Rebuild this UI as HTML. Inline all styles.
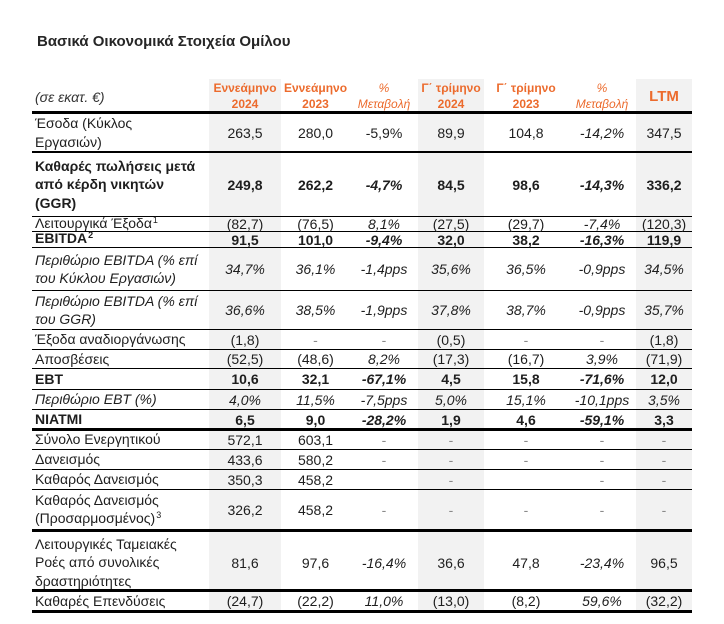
<!DOCTYPE html>
<html>
<head>
<meta charset="utf-8">
<style>
html,body{margin:0;padding:0;}
body{width:724px;height:624px;background:#fff;position:relative;overflow:hidden;font-family:"Liberation Sans","DejaVu Sans",sans-serif;color:#1e1e1e;}
.title{position:absolute;left:37px;top:32px;font-size:15px;font-weight:bold;color:#262626;white-space:nowrap;line-height:20px;}
.unit{position:absolute;left:35px;top:88px;font-size:14px;font-style:italic;color:#333;line-height:18px;white-space:nowrap;}
.shade{position:absolute;top:79px;height:532px;background:#f2f2f2;}
.ln{position:absolute;left:32px;width:660px;background:#000;}
.r{position:absolute;left:32px;width:660px;}
.c{position:absolute;top:0;height:100%;display:flex;align-items:center;justify-content:center;font-size:14px;white-space:nowrap;box-sizing:border-box;padding-top:1px;}
.c0{left:0;width:177px;justify-content:flex-start;padding-left:3px;line-height:18.5px;}
.c1{left:177px;width:72px}
.c2{left:249px;width:69px}
.c3{left:318px;width:68px}
.c4{left:386px;width:66px}
.c5{left:452px;width:84px}
.c6{left:536px;width:68px}
.c7{left:604px;width:56px}
.b{font-weight:bold;}
.i{font-style:italic;}
.d{color:#8a8a8a;}
.sp{font-size:9px;position:relative;top:-5px;margin-left:1px;}
.h{position:absolute;top:79px;height:33px;display:flex;flex-direction:column;align-items:center;justify-content:center;font-size:12px;line-height:16px;color:#EC6B2D;white-space:nowrap;}
.hb{font-weight:bold;}
.hi{font-style:italic;}
</style>
</head>
<body>
<div class="title">Βασικά Οικονομικά Στοιχεία Ομίλου</div>
<div class="unit">(σε εκατ. €)</div>

<div class="shade" style="left:209px;width:72px"></div>
<div class="shade" style="left:418px;width:66px"></div>
<div class="shade" style="left:636px;width:56px"></div>

<!-- header -->
<div class="h hb" style="left:209px;width:72px"><div>Εννεάμηνο</div><div>2024</div></div>
<div class="h hb" style="left:281px;width:69px"><div>Εννεάμηνο</div><div>2023</div></div>
<div class="h hi" style="left:350px;width:68px"><div>%</div><div>Μεταβολή</div></div>
<div class="h hb" style="left:418px;width:66px"><div>Γ΄ τρίμηνο</div><div>2024</div></div>
<div class="h hb" style="left:484px;width:84px"><div>Γ΄ τρίμηνο</div><div>2023</div></div>
<div class="h hi" style="left:568px;width:68px"><div>%</div><div>Μεταβολή</div></div>
<div class="h hb" style="left:636px;width:56px;font-size:15px;padding-top:2px;box-sizing:border-box">LTM</div>

<!-- lines -->
<div class="ln" style="top:110.5px;height:3px"></div>
<div class="ln" style="top:151px;height:1.5px"></div>
<div class="ln" style="top:215.5px;height:1px"></div>
<div class="ln" style="top:230.5px;height:1.5px"></div>
<div class="ln" style="top:246.5px;height:1.5px"></div>
<div class="ln" style="top:289.5px;height:1px"></div>
<div class="ln" style="top:328.5px;height:1px"></div>
<div class="ln" style="top:348.5px;height:1px"></div>
<div class="ln" style="top:367.5px;height:1px"></div>
<div class="ln" style="top:388.5px;height:1px"></div>
<div class="ln" style="top:408.5px;height:1.5px"></div>
<div class="ln" style="top:427.5px;height:3px"></div>
<div class="ln" style="top:448.5px;height:1px"></div>
<div class="ln" style="top:468.5px;height:1px"></div>
<div class="ln" style="top:488.5px;height:1px"></div>
<div class="ln" style="top:528.5px;height:3px"></div>
<div class="ln" style="top:588.5px;height:3px"></div>
<div class="ln" style="top:609.5px;height:3px"></div>

<!-- R1 -->
<div class="r" style="top:112px;height:40px">
<div class="c c0"><div>Έσοδα (Κύκλος<br>Εργασιών)</div></div>
<div class="c c1">263,5</div><div class="c c2">280,0</div><div class="c c3">-5,9%</div>
<div class="c c4">89,9</div><div class="c c5">104,8</div><div class="c c6 i">-14,2%</div><div class="c c7">347,5</div>
</div>
<!-- R2 -->
<div class="r b" style="top:152px;height:64px">
<div class="c c0"><div>Καθαρές πωλήσεις μετά<br>από κέρδη νικητών<br>(GGR)</div></div>
<div class="c c1">249,8</div><div class="c c2">262,2</div><div class="c c3 i">-4,7%</div>
<div class="c c4">84,5</div><div class="c c5">98,6</div><div class="c c6 i">-14,3%</div><div class="c c7">336,2</div>
</div>
<!-- R3 -->
<div class="r" style="top:216px;height:15px">
<div class="c c0"><div>Λειτουργικά Έξοδα<span class="sp">1</span></div></div>
<div class="c c1">(82,7)</div><div class="c c2">(76,5)</div><div class="c c3 i">8,1%</div>
<div class="c c4">(27,5)</div><div class="c c5">(29,7)</div><div class="c c6 i">-7,4%</div><div class="c c7">(120,3)</div>
</div>
<!-- R4 -->
<div class="r b" style="top:231px;height:16px">
<div class="c c0"><div>EBITDA<span class="sp">2</span></div></div>
<div class="c c1">91,5</div><div class="c c2">101,0</div><div class="c c3 i">-9,4%</div>
<div class="c c4">32,0</div><div class="c c5">38,2</div><div class="c c6 i">-16,3%</div><div class="c c7">119,9</div>
</div>
<!-- R5 -->
<div class="r i" style="top:247px;height:43px">
<div class="c c0"><div>Περιθώριο EBITDA (% επί<br>του Κύκλου Εργασιών)</div></div>
<div class="c c1">34,7%</div><div class="c c2">36,1%</div><div class="c c3">-1,4pps</div>
<div class="c c4">35,6%</div><div class="c c5">36,5%</div><div class="c c6">-0,9pps</div><div class="c c7">34,5%</div>
</div>
<!-- R6 -->
<div class="r i" style="top:290px;height:39px">
<div class="c c0"><div>Περιθώριο EBITDA (% επί<br>του GGR)</div></div>
<div class="c c1">36,6%</div><div class="c c2">38,5%</div><div class="c c3">-1,9pps</div>
<div class="c c4">37,8%</div><div class="c c5">38,7%</div><div class="c c6">-0,9pps</div><div class="c c7">35,7%</div>
</div>
<!-- R7 -->
<div class="r" style="top:329px;height:20px">
<div class="c c0"><div>Έξοδα αναδιοργάνωσης</div></div>
<div class="c c1">(1,8)</div><div class="c c2 d">-</div><div class="c c3 d">-</div>
<div class="c c4">(0,5)</div><div class="c c5 d">-</div><div class="c c6 d">-</div><div class="c c7">(1,8)</div>
</div>
<!-- R8 -->
<div class="r" style="top:349px;height:19px">
<div class="c c0"><div>Αποσβέσεις</div></div>
<div class="c c1">(52,5)</div><div class="c c2">(48,6)</div><div class="c c3 i">8,2%</div>
<div class="c c4">(17,3)</div><div class="c c5">(16,7)</div><div class="c c6 i">3,9%</div><div class="c c7">(71,9)</div>
</div>
<!-- R9 -->
<div class="r b" style="top:368px;height:21px">
<div class="c c0"><div>EBT</div></div>
<div class="c c1">10,6</div><div class="c c2">32,1</div><div class="c c3 i">-67,1%</div>
<div class="c c4">4,5</div><div class="c c5">15,8</div><div class="c c6 i">-71,6%</div><div class="c c7">12,0</div>
</div>
<!-- R10 -->
<div class="r i" style="top:389px;height:20px">
<div class="c c0"><div>Περιθώριο EBT (%)</div></div>
<div class="c c1">4,0%</div><div class="c c2">11,5%</div><div class="c c3">-7,5pps</div>
<div class="c c4">5,0%</div><div class="c c5">15,1%</div><div class="c c6">-10,1pps</div><div class="c c7">3,5%</div>
</div>
<!-- R11 -->
<div class="r b" style="top:409px;height:20px">
<div class="c c0"><div>NIATMI</div></div>
<div class="c c1">6,5</div><div class="c c2">9,0</div><div class="c c3 i">-28,2%</div>
<div class="c c4">1,9</div><div class="c c5">4,6</div><div class="c c6 i">-59,1%</div><div class="c c7">3,3</div>
</div>
<!-- R12 -->
<div class="r" style="top:429px;height:20px">
<div class="c c0"><div>Σύνολο Ενεργητικού</div></div>
<div class="c c1">572,1</div><div class="c c2">603,1</div><div class="c c3 d">-</div>
<div class="c c4 d">-</div><div class="c c5 d">-</div><div class="c c6 d">-</div><div class="c c7 d">-</div>
</div>
<!-- R13 -->
<div class="r" style="top:449px;height:20px">
<div class="c c0"><div>Δανεισμός</div></div>
<div class="c c1">433,6</div><div class="c c2">580,2</div><div class="c c3 d">-</div>
<div class="c c4 d">-</div><div class="c c5 d">-</div><div class="c c6 d">-</div><div class="c c7 d">-</div>
</div>
<!-- R14 -->
<div class="r" style="top:469px;height:20px">
<div class="c c0"><div>Καθαρός Δανεισμός</div></div>
<div class="c c1">350,3</div><div class="c c2">458,2</div>
<div class="c c4 d">-</div><div class="c c6 d">-</div><div class="c c7 d">-</div>
</div>
<!-- R15 -->
<div class="r" style="top:489px;height:41px">
<div class="c c0"><div>Καθαρός Δανεισμός<br>(Προσαρμοσμένος)<span class="sp">3</span></div></div>
<div class="c c1">326,2</div><div class="c c2">458,2</div><div class="c c3 d">-</div>
<div class="c c4 d">-</div><div class="c c5 d">-</div><div class="c c6 d">-</div><div class="c c7 d">-</div>
</div>
<!-- R16 -->
<div class="r" style="top:530px;height:60px">
<div class="c c0" style="padding-top:5px"><div>Λειτουργικές Ταμειακές<br>Ροές από συνολικές<br>δραστηριότητες</div></div>
<div class="c c1" style="padding-top:5px">81,6</div><div class="c c2" style="padding-top:5px">97,6</div><div class="c c3 i" style="padding-top:5px">-16,4%</div>
<div class="c c4" style="padding-top:5px">36,6</div><div class="c c5" style="padding-top:5px">47,8</div><div class="c c6 i" style="padding-top:5px">-23,4%</div><div class="c c7" style="padding-top:5px">96,5</div>
</div>
<!-- R17 -->
<div class="r" style="top:590px;height:21px">
<div class="c c0"><div>Καθαρές Επενδύσεις</div></div>
<div class="c c1">(24,7)</div><div class="c c2">(22,2)</div><div class="c c3 i">11,0%</div>
<div class="c c4">(13,0)</div><div class="c c5">(8,2)</div><div class="c c6 i">59,6%</div><div class="c c7">(32,2)</div>
</div>
</body>
</html>
